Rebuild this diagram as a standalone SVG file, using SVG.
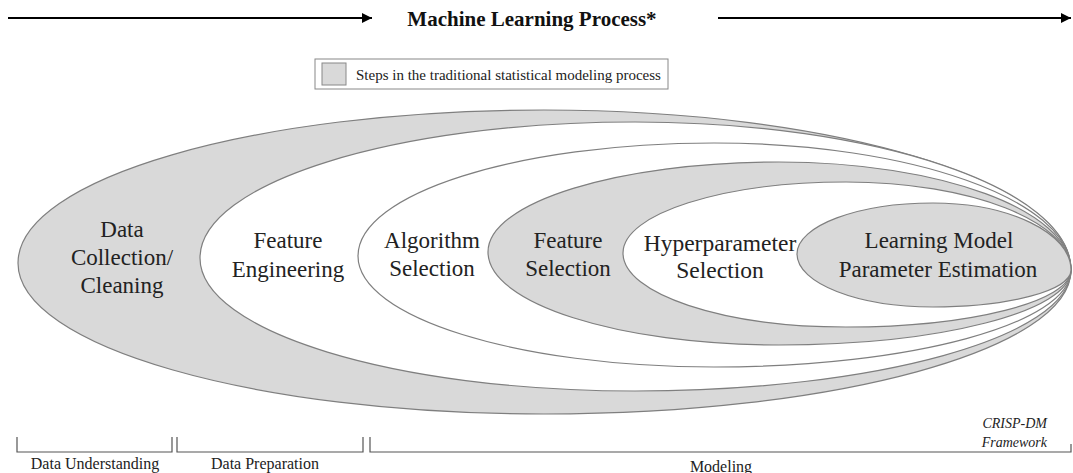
<svg xmlns="http://www.w3.org/2000/svg" width="1073" height="473" viewBox="0 0 1073 473">
<style>
.g{fill:#d9d9d9;stroke:#7f7f7f;stroke-width:1.2}
.w{fill:#ffffff;stroke:#7f7f7f;stroke-width:1.2}
.br{fill:none;stroke:#555;stroke-width:1.2}
.ar{stroke:#000;stroke-width:2;fill:none}
</style>
<defs>
<marker id="ah" viewBox="0 0 10 10" refX="10" refY="5" markerWidth="5" markerHeight="5" orient="auto" markerUnits="strokeWidth">
<path d="M0,0 L10,5 L0,10 Z" fill="#000"/>
</marker>
</defs>
<g id="title">
<text x="532" y="26" font-family="'Liberation Serif', 'Times New Roman', serif" font-size="21" font-weight="bold" fill="#111" text-anchor="middle">Machine Learning Process*</text>
</g>
<g id="connectors">
<line class="ar" x1="8" y1="18" x2="372" y2="18" marker-end="url(#ah)"/>
<line class="ar" x1="718" y1="18" x2="1071" y2="18" marker-end="url(#ah)"/>
</g>
<g id="legend">
<rect x="315" y="59" width="353" height="30" fill="#fff" stroke="#888" stroke-width="1"/>
<rect x="322" y="63" width="24" height="22" fill="#d9d9d9" stroke="#888" stroke-width="1"/>
<text x="356" y="80" font-family="'Liberation Serif', 'Times New Roman', serif" font-size="15" fill="#222">Steps in the traditional statistical modeling process</text>
</g>
<g id="e1">
<path class="g" d="M18,263 C18,178.5 253.5,110 544,110 C835,110 1071,181.6 1071,270 C1071,349.5 835,414 544,414 C253.5,414 18,346.4 18,263 Z"/>
<text x="122" y="237" font-family="'Liberation Serif', 'Times New Roman', serif" font-size="23" fill="#222" text-anchor="middle">Data</text>
<text x="122" y="265" font-family="'Liberation Serif', 'Times New Roman', serif" font-size="23" fill="#222" text-anchor="middle">Collection/</text>
<text x="122" y="293" font-family="'Liberation Serif', 'Times New Roman', serif" font-size="23" fill="#222" text-anchor="middle">Cleaning</text>
</g>
<g id="e2">
<path class="w" d="M200,258 C200,182.9 394.7,122 635,122 C875.8,122 1071,188.3 1071,270 C1071,336.8 875.8,391 635,391 C394.7,391 200,331.5 200,258 Z"/>
<text x="288" y="248" font-family="'Liberation Serif', 'Times New Roman', serif" font-size="23" fill="#222" text-anchor="middle">Feature</text>
<text x="288" y="277" font-family="'Liberation Serif', 'Times New Roman', serif" font-size="23" fill="#222" text-anchor="middle">Engineering</text>
</g>
<g id="e3">
<path class="w" d="M358,256 C358,193.6 517.4,143 714,143 C911.2,143 1071,199.9 1071,270 C1071,323.6 911.2,367 714,367 C517.4,367 358,317.3 358,256 Z"/>
<text x="432" y="248" font-family="'Liberation Serif', 'Times New Roman', serif" font-size="23" fill="#222" text-anchor="middle">Algorithm</text>
<text x="432" y="276" font-family="'Liberation Serif', 'Times New Roman', serif" font-size="23" fill="#222" text-anchor="middle">Selection</text>
</g>
<g id="e4">
<path class="g" d="M488,252 C488,202.3 618.3,162 779,162 C940.3,162 1071,210.4 1071,270 C1071,311.4 940.3,345 779,345 C618.3,345 488,303.4 488,252 Z"/>
<text x="568" y="248" font-family="'Liberation Serif', 'Times New Roman', serif" font-size="23" fill="#222" text-anchor="middle">Feature</text>
<text x="568" y="276" font-family="'Liberation Serif', 'Times New Roman', serif" font-size="23" fill="#222" text-anchor="middle">Selection</text>
</g>
<g id="e5">
<path class="w" d="M623,253 C623,213.8 722.8,182 846,182 C970.3,182 1071,221.4 1071,270 C1071,301.5 970.3,327 846,327 C722.8,327 623,293.9 623,253 Z"/>
<text x="720" y="251" font-family="'Liberation Serif', 'Times New Roman', serif" font-size="23.5" fill="#222" text-anchor="middle">Hyperparameter</text>
<text x="720" y="278" font-family="'Liberation Serif', 'Times New Roman', serif" font-size="23.5" fill="#222" text-anchor="middle">Selection</text>
</g>
<g id="e6">
<path class="g" d="M797,254 C797,225.8 857.9,203 933,203 C1009.2,203 1071,233 1071,270 C1071,290.4 1009.2,307 933,307 C857.9,307 797,283.3 797,254 Z"/>
<text x="939" y="248" font-family="'Liberation Serif', 'Times New Roman', serif" font-size="23" fill="#222" text-anchor="middle">Learning Model</text>
<text x="938" y="277" font-family="'Liberation Serif', 'Times New Roman', serif" font-size="23" fill="#222" text-anchor="middle">Parameter Estimation</text>
</g>
<g id="crisp">
<text x="1047" y="428" font-family="'Liberation Serif', 'Times New Roman', serif" font-size="14" font-style="italic" fill="#222" text-anchor="end">CRISP-DM</text>
<text x="1047" y="447" font-family="'Liberation Serif', 'Times New Roman', serif" font-size="14" font-style="italic" fill="#222" text-anchor="end">Framework</text>
</g>
<g id="brackets">
<path class="br" d="M17,437 V452 H172 V437"/>
<path class="br" d="M177,437 V452 H363 V437"/>
<path class="br" d="M370,437 V452 H1071 V444"/>
<text x="95" y="469" font-family="'Liberation Serif', 'Times New Roman', serif" font-size="16" fill="#222" text-anchor="middle">Data Understanding</text>
<text x="265" y="469" font-family="'Liberation Serif', 'Times New Roman', serif" font-size="16" fill="#222" text-anchor="middle">Data Preparation</text>
<text x="721" y="472" font-family="'Liberation Serif', 'Times New Roman', serif" font-size="16" fill="#222" text-anchor="middle">Modeling</text>
</g>
</svg>
